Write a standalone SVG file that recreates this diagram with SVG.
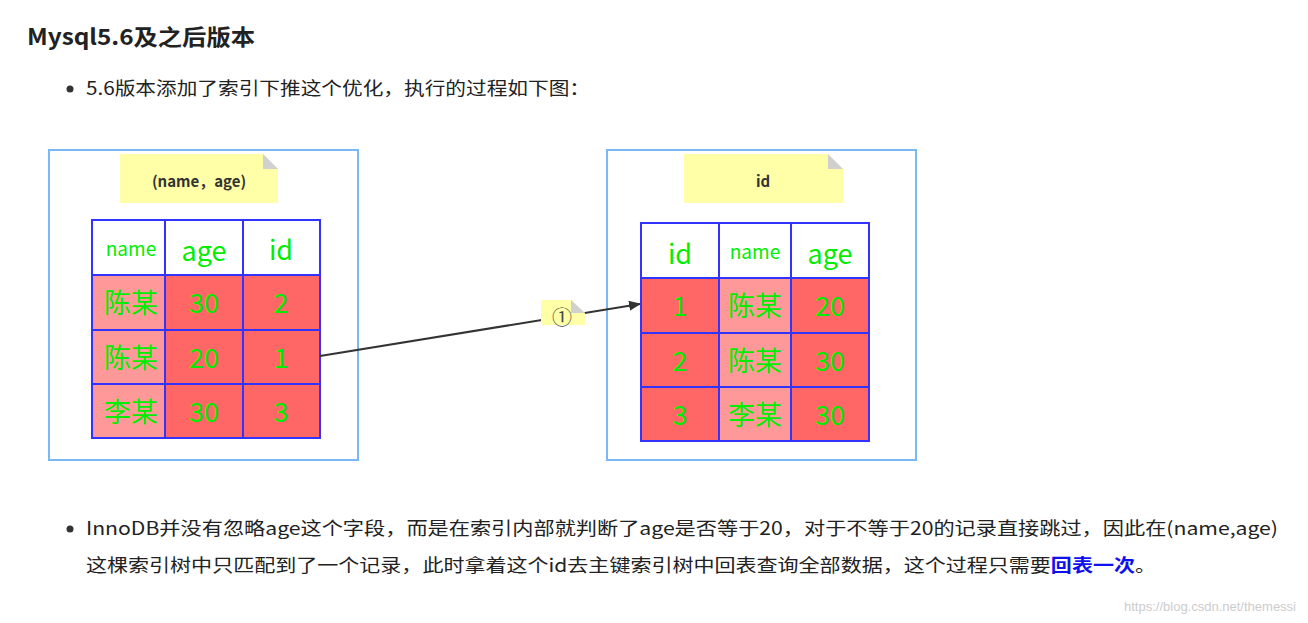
<svg xmlns="http://www.w3.org/2000/svg" width="1308" height="623" viewBox="0 0 1308 623">
<style>
.t{font-family:"Microsoft YaHei","Noto Sans CJK SC",sans-serif;fill:#222}
.box{fill:#fff;stroke:#7ab8f5;stroke-width:2}
.note{fill:#ffffa8}
.fold{fill:#d0d0d0}
.hd{fill:#fff;stroke:#3333ff;stroke-width:2}
.c1{fill:#ff9999;stroke:#3333ff;stroke-width:2}
.c2{fill:#ff6666;stroke:#3333ff;stroke-width:2}
.g{font-family:"Noto Sans CJK SC",sans-serif;fill:#00ee00;text-anchor:middle}
.nt{font-family:"Noto Sans CJK SC",sans-serif;font-weight:bold;font-size:15px;fill:#333;text-anchor:middle}
</style>
<defs><marker id="ah" markerWidth="12" markerHeight="10" refX="11" refY="5" orient="auto" markerUnits="userSpaceOnUse"><path d="M0,0 L12,5 L0,10 z" fill="#333"/></marker></defs>
<rect width="1308" height="623" fill="#fff"/>
<text class="t" x="27" y="45" font-size="22" font-weight="bold" fill="#333" textLength="228" lengthAdjust="spacingAndGlyphs">Mysql5.6及之后版本</text>
<circle cx="70" cy="89" r="3.5" fill="#333"/>
<text class="t" x="86" y="95" font-size="18" textLength="504" lengthAdjust="spacingAndGlyphs">5.6版本添加了索引下推这个优化，执行的过程如下图：</text>
<g id="left">
<rect class="box" x="49" y="150" width="309" height="310"/>
<path class="note" d="M120,154 H263 L278,169 V203 H120 z"/><path class="fold" d="M263,154 L278,169 H263 z"/>
<text class="nt" x="199" y="187">(name，age)</text>
<rect class="hd" x="92" y="220" width="73" height="55"/><rect class="hd" x="165" y="220" width="78" height="55"/><rect class="hd" x="243" y="220" width="77" height="55"/>
<rect class="c1" x="92" y="275" width="73" height="55"/><rect class="c2" x="165" y="275" width="78" height="55"/><rect class="c2" x="243" y="275" width="77" height="55"/>
<rect class="c1" x="92" y="330" width="73" height="54"/><rect class="c2" x="165" y="330" width="78" height="54"/><rect class="c2" x="243" y="330" width="77" height="54"/>
<rect class="c1" x="92" y="384" width="73" height="54"/><rect class="c2" x="165" y="384" width="78" height="54"/><rect class="c2" x="243" y="384" width="77" height="54"/>
<text class="g" x="131" y="256" font-size="19">name</text><text class="g" x="204" y="261" font-size="27">age</text><text class="g" x="281" y="260" font-size="27">id</text>
<g font-size="27"><text class="g" x="131" y="313">陈某</text><text class="g" x="204" y="313">30</text><text class="g" x="281" y="313">2</text>
<text class="g" x="131" y="368">陈某</text><text class="g" x="204" y="368">20</text><text class="g" x="281" y="368">1</text>
<text class="g" x="131" y="422">李某</text><text class="g" x="204" y="422">30</text><text class="g" x="281" y="422">3</text></g>
</g>
<g id="right">
<rect class="box" x="607" y="150" width="309" height="310"/>
<path class="note" d="M684,154 H828 L843,169 V203 H684 z"/><path class="fold" d="M828,154 L843,169 H828 z"/>
<text class="nt" x="763" y="187">id</text>
<rect class="hd" x="641" y="223" width="78" height="55"/><rect class="hd" x="719" y="223" width="72" height="55"/><rect class="hd" x="791" y="223" width="78" height="55"/>
<rect class="c2" x="641" y="278" width="78" height="55"/><rect class="c1" x="719" y="278" width="72" height="55"/><rect class="c2" x="791" y="278" width="78" height="55"/>
<rect class="c2" x="641" y="333" width="78" height="54"/><rect class="c1" x="719" y="333" width="72" height="54"/><rect class="c2" x="791" y="333" width="78" height="54"/>
<rect class="c2" x="641" y="387" width="78" height="54"/><rect class="c1" x="719" y="387" width="72" height="54"/><rect class="c2" x="791" y="387" width="78" height="54"/>
<text class="g" x="680" y="264" font-size="27">id</text><text class="g" x="755" y="259" font-size="19">name</text><text class="g" x="830" y="264" font-size="27">age</text>
<g font-size="27"><text class="g" x="680" y="316">1</text><text class="g" x="755" y="316">陈某</text><text class="g" x="830" y="316">20</text>
<text class="g" x="680" y="371">2</text><text class="g" x="755" y="371">陈某</text><text class="g" x="830" y="371">30</text>
<text class="g" x="680" y="425">3</text><text class="g" x="755" y="425">李某</text><text class="g" x="830" y="425">30</text></g>
</g>
<g id="connectors">
<line x1="320" y1="356" x2="640" y2="304" stroke="#333" stroke-width="2" marker-end="url(#ah)"/>
<path class="note" d="M541,300 H571 L585,313 V325 H541 z"/><path class="fold" d="M571,300 L585,313 H571 z"/>
<text x="562" y="325" font-family="Noto Sans CJK SC,sans-serif" font-size="20" fill="#444" text-anchor="middle">①</text>
</g>
<circle cx="70" cy="529" r="3.5" fill="#333"/>
<text class="t" x="86" y="535" font-size="18" textLength="1192" lengthAdjust="spacingAndGlyphs">InnoDB并没有忽略age这个字段，而是在索引内部就判断了age是否等于20，对于不等于20的记录直接跳过，因此在(name,age)</text>
<text class="t" x="86" y="572" font-size="18" textLength="1070" lengthAdjust="spacingAndGlyphs">这棵索引树中只匹配到了一个记录，此时拿着这个id去主键索引树中回表查询全部数据，这个过程只需要<tspan font-weight="bold" fill="#1010ee">回表一次</tspan>。</text>
<text x="1296" y="611" font-family="Liberation Sans,sans-serif" font-size="13" fill="#ccc" text-anchor="end">https://blog.csdn.net/themessi</text>
</svg>
